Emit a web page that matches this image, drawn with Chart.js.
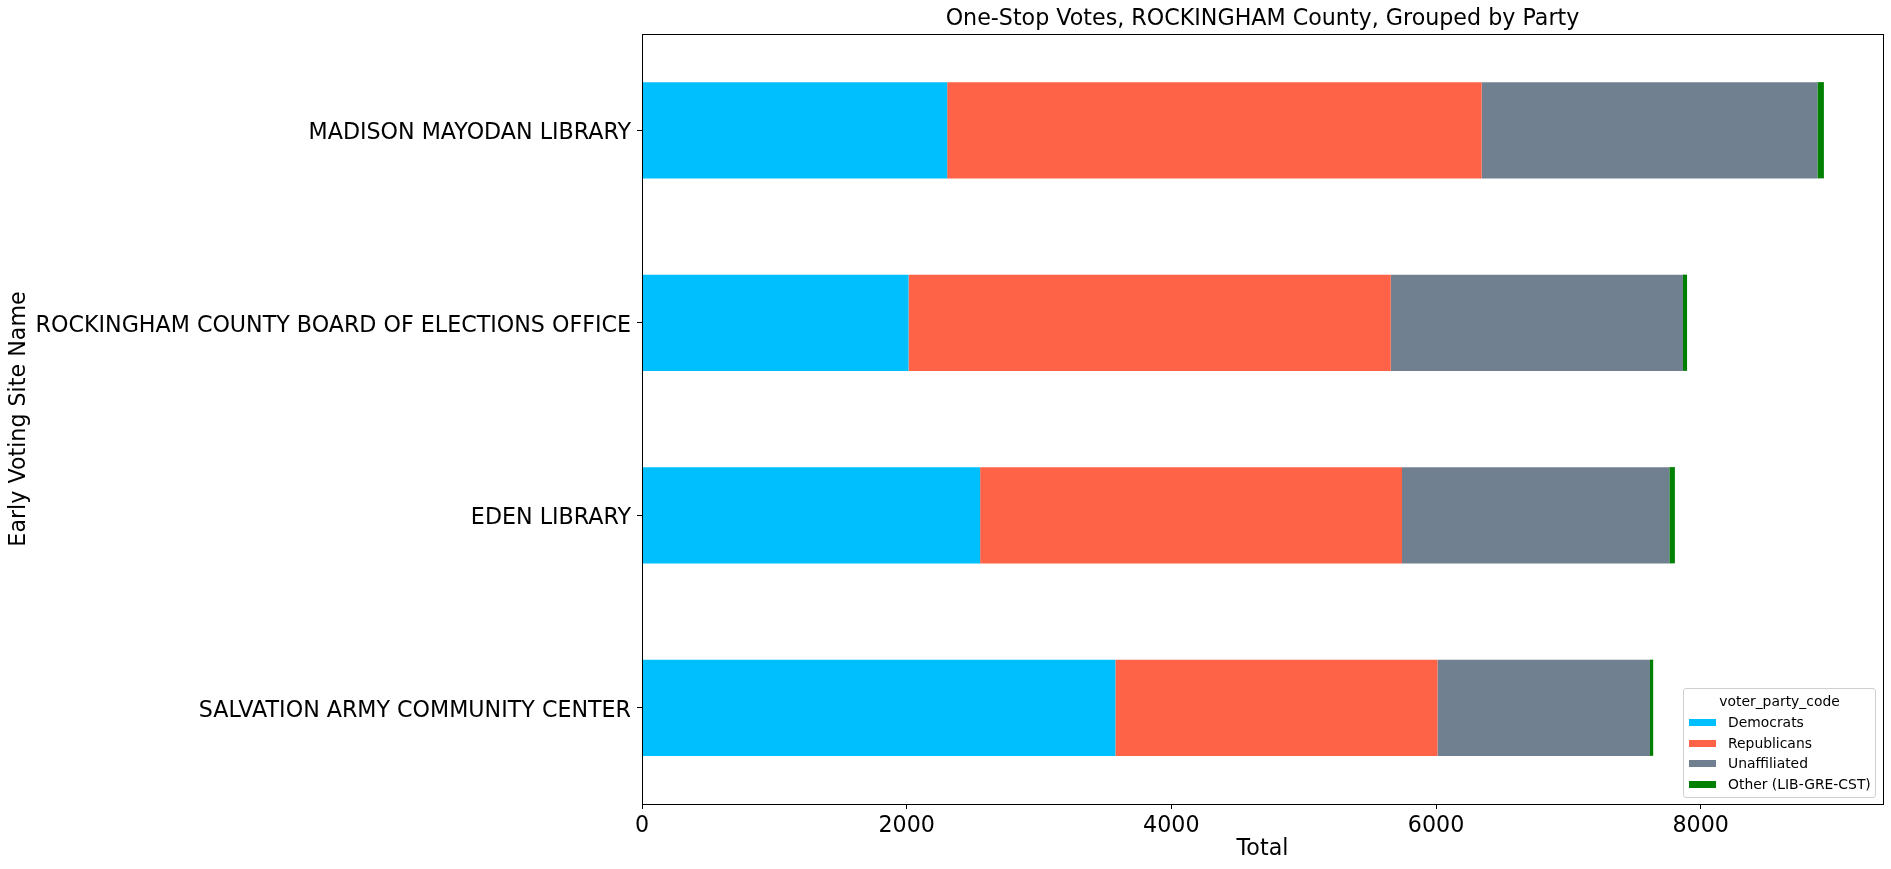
<!DOCTYPE html>
<html lang="en">
<head>
  <meta charset="UTF-8" />
  <title>One-Stop Votes, ROCKINGHAM County</title>
  <script src="https://cdn.jsdelivr.net/npm/chart.js"></script>
  <style>
    body { margin: 0; background: white; font-family: "DejaVu Sans", sans-serif; }
    #wrap { position: relative; width: 1891px; height: 869px; }
    #legend {
      position: absolute; left: 1683px; top: 688px; width: 191px; height: 108px;
      border: 1px solid #d0d0d0; border-radius: 3px; background: rgba(255,255,255,0.8);
      font-size: 13.9px; color: #000;
    }
    #legend .ttl { position: absolute; left: 0; right: 0; top: 4px; line-height: 17px; text-align: center; }
    #legend .row { position: absolute; left: 0; line-height: 17px; white-space: nowrap; }
    #legend .sw { position: absolute; left: 5px; top: 5px; width: 27px; height: 7px; }
    #legend .lb { position: absolute; left: 44px; top: 0; }
  </style>
</head>
<body>
  <div id="wrap">
    <canvas id="chart"></canvas>
    <div id="legend"></div>
  </div>

  <script>
    // data
    const sites = [
      "MADISON MAYODAN LIBRARY",
      "ROCKINGHAM COUNTY BOARD OF ELECTIONS OFFICE",
      "EDEN LIBRARY",
      "SALVATION ARMY COMMUNITY CENTER"
    ];
    const democrats    = [2306, 2014, 2555, 3577];
    const republicans  = [4039, 3644, 3188, 2434];
    const unaffiliated = [2537, 2208, 2020, 1606];
    const other        = [49, 31, 42, 24];
    const xTicks = [0, 2000, 4000, 6000, 8000];

    const partyNames  = ["Democrats", "Republicans", "Unaffiliated", "Other (LIB-GRE-CST)"];
    const partyColors = ["#00BFFF", "#FF6347", "#708090", "#008000"];
    const series = [democrats, republicans, unaffiliated, other];

    const totals = sites.map((_, i) => series.reduce((s, arr) => s + arr[i], 0));
    const xMax = Math.max(...totals) * 1.05;

    const FONT = "DejaVu Sans";
    const FS = 22.2;

    // title over the plot area + full box frame (matplotlib style)
    const framePlugin = {
      id: "frame",
      afterDraw(chart) {
        const { ctx, chartArea: a } = chart;
        ctx.save();
        ctx.strokeStyle = "#000";
        ctx.lineWidth = 1;
        ctx.strokeRect(Math.round(a.left) + 0.5, Math.round(a.top) + 0.5,
                       Math.round(a.right - a.left), Math.round(a.bottom - a.top));
        ctx.fillStyle = "#000";
        ctx.font = FS + "px '" + FONT + "'";
        ctx.textAlign = "center";
        ctx.textBaseline = "middle";
        ctx.fillText("One-Stop Votes, ROCKINGHAM County, Grouped by Party", (a.left + a.right) / 2, 19);
        ctx.restore();
      }
    };

    new Chart(document.getElementById("chart"), {
      type: "bar",
      data: {
        labels: sites,
        datasets: partyNames.map((name, k) => ({
          label: name,
          data: series[k],
          backgroundColor: partyColors[k],
          borderWidth: 0,
          categoryPercentage: 1,
          barPercentage: 0.5
        }))
      },
      options: {
        indexAxis: "y",
        responsive: true,
        maintainAspectRatio: false,
        animation: false,
        layout: { padding: { left: 0, right: 8, top: 34, bottom: 0 } },
        plugins: {
          legend: { display: false },
          tooltip: { enabled: false }
        },
        scales: {
          x: {
            stacked: true,
            min: 0,
            max: xMax,
            afterBuildTicks: s => { s.ticks = xTicks.map(v => ({ value: v })); },
            afterFit: s => { s.height = 65; },
            grid: { drawOnChartArea: false, tickLength: 5, tickColor: "#000" },
            border: { color: "#000" },
            ticks: { color: "#000", font: { family: FONT, size: FS }, padding: 4, maxRotation: 0,
                     callback: v => String(v) },
            title: { display: true, text: "Total", color: "#000",
                     font: { family: FONT, size: FS }, padding: { top: 0, bottom: 6 } }
          },
          y: {
            stacked: true,
            afterFit: s => { s.width = 642; },
            grid: { drawOnChartArea: false, offset: false, tickLength: 5, tickColor: "#000" },
            border: { color: "#000" },
            ticks: { color: "#000", font: { family: FONT, size: FS }, padding: 6, labelOffset: 3 },
            title: { display: true, text: "Early Voting Site Name", color: "#000",
                     font: { family: FONT, size: FS }, padding: { top: 6, bottom: 0 } }
          }
        }
      },
      plugins: [framePlugin]
    });

    // legend inside the plot, lower right
    const legend = document.getElementById("legend");
    legend.innerHTML = '<div class="ttl">voter_party_code</div>' +
      partyNames.map((name, k) =>
        `<div class="row" style="top:${25 + k * 20.6}px">` +
        `<span class="sw" style="background:${partyColors[k]}"></span>` +
        `<span class="lb">${name}</span></div>`).join("");
  </script>
</body>
</html>
